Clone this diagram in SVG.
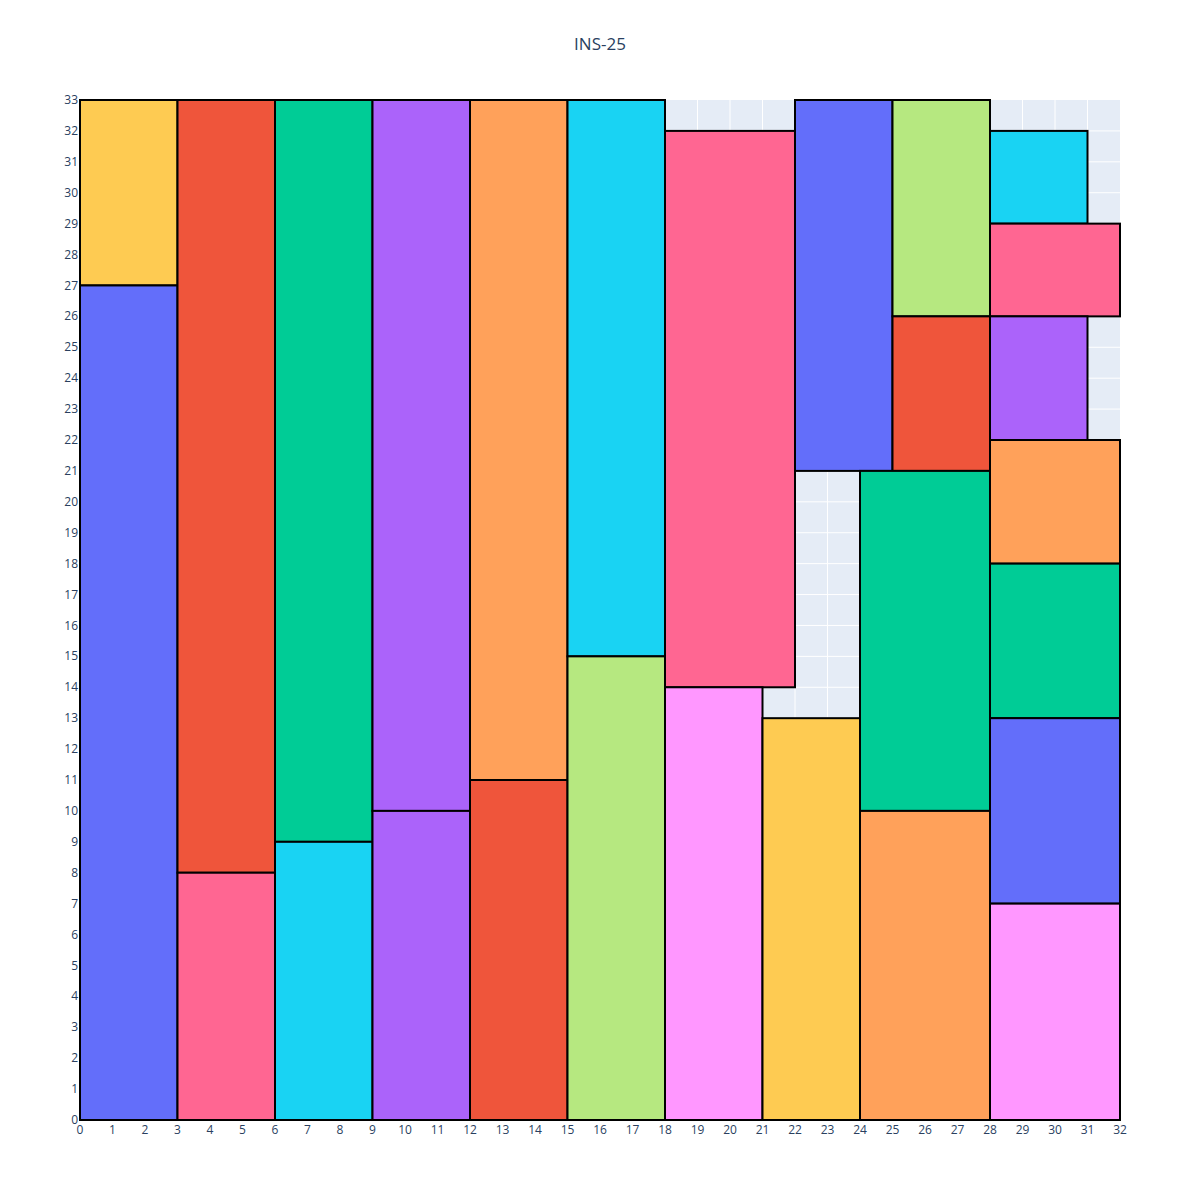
<svg xmlns="http://www.w3.org/2000/svg" width="1200" height="1200" viewBox="0 0 1200 1200">
<style>
.grid line{stroke:#ffffff;stroke-width:1}
.tk{font-family:"Open Sans","Liberation Sans",sans-serif;font-size:12px;fill:#2a3f5f}
.yt{text-anchor:end}
.xt{text-anchor:middle}
.r{stroke:#000000;stroke-width:2}
</style>
<rect x="0" y="0" width="1200" height="1200" fill="#ffffff"/>
<rect x="80" y="100" width="1040" height="1020" fill="#E5ECF6"/>
<g class="grid" id="grid">
<line x1="112.5" y1="100" x2="112.5" y2="1120"/><line x1="145" y1="100" x2="145" y2="1120"/><line x1="177.5" y1="100" x2="177.5" y2="1120"/><line x1="210" y1="100" x2="210" y2="1120"/><line x1="242.5" y1="100" x2="242.5" y2="1120"/><line x1="275" y1="100" x2="275" y2="1120"/><line x1="307.5" y1="100" x2="307.5" y2="1120"/><line x1="340" y1="100" x2="340" y2="1120"/><line x1="372.5" y1="100" x2="372.5" y2="1120"/><line x1="405" y1="100" x2="405" y2="1120"/><line x1="437.5" y1="100" x2="437.5" y2="1120"/><line x1="470" y1="100" x2="470" y2="1120"/><line x1="502.5" y1="100" x2="502.5" y2="1120"/><line x1="535" y1="100" x2="535" y2="1120"/><line x1="567.5" y1="100" x2="567.5" y2="1120"/><line x1="600" y1="100" x2="600" y2="1120"/><line x1="632.5" y1="100" x2="632.5" y2="1120"/><line x1="665" y1="100" x2="665" y2="1120"/><line x1="697.5" y1="100" x2="697.5" y2="1120"/><line x1="730" y1="100" x2="730" y2="1120"/><line x1="762.5" y1="100" x2="762.5" y2="1120"/><line x1="795" y1="100" x2="795" y2="1120"/><line x1="827.5" y1="100" x2="827.5" y2="1120"/><line x1="860" y1="100" x2="860" y2="1120"/><line x1="892.5" y1="100" x2="892.5" y2="1120"/><line x1="925" y1="100" x2="925" y2="1120"/><line x1="957.5" y1="100" x2="957.5" y2="1120"/><line x1="990" y1="100" x2="990" y2="1120"/><line x1="1022.5" y1="100" x2="1022.5" y2="1120"/><line x1="1055" y1="100" x2="1055" y2="1120"/><line x1="1087.5" y1="100" x2="1087.5" y2="1120"/>
<line x1="80" y1="1089.09" x2="1120" y2="1089.09"/><line x1="80" y1="1058.18" x2="1120" y2="1058.18"/><line x1="80" y1="1027.27" x2="1120" y2="1027.27"/><line x1="80" y1="996.36" x2="1120" y2="996.36"/><line x1="80" y1="965.45" x2="1120" y2="965.45"/><line x1="80" y1="934.55" x2="1120" y2="934.55"/><line x1="80" y1="903.64" x2="1120" y2="903.64"/><line x1="80" y1="872.73" x2="1120" y2="872.73"/><line x1="80" y1="841.82" x2="1120" y2="841.82"/><line x1="80" y1="810.91" x2="1120" y2="810.91"/><line x1="80" y1="780" x2="1120" y2="780"/><line x1="80" y1="749.09" x2="1120" y2="749.09"/><line x1="80" y1="718.18" x2="1120" y2="718.18"/><line x1="80" y1="687.27" x2="1120" y2="687.27"/><line x1="80" y1="656.36" x2="1120" y2="656.36"/><line x1="80" y1="625.45" x2="1120" y2="625.45"/><line x1="80" y1="594.55" x2="1120" y2="594.55"/><line x1="80" y1="563.64" x2="1120" y2="563.64"/><line x1="80" y1="532.73" x2="1120" y2="532.73"/><line x1="80" y1="501.82" x2="1120" y2="501.82"/><line x1="80" y1="470.91" x2="1120" y2="470.91"/><line x1="80" y1="440" x2="1120" y2="440"/><line x1="80" y1="409.09" x2="1120" y2="409.09"/><line x1="80" y1="378.18" x2="1120" y2="378.18"/><line x1="80" y1="347.27" x2="1120" y2="347.27"/><line x1="80" y1="316.36" x2="1120" y2="316.36"/><line x1="80" y1="285.45" x2="1120" y2="285.45"/><line x1="80" y1="254.55" x2="1120" y2="254.55"/><line x1="80" y1="223.64" x2="1120" y2="223.64"/><line x1="80" y1="192.73" x2="1120" y2="192.73"/><line x1="80" y1="161.82" x2="1120" y2="161.82"/><line x1="80" y1="130.91" x2="1120" y2="130.91"/>
</g>
<g id="rects">
<rect id="n1" class="r" x="80" y="100" width="97.5" height="185.45" fill="#FECB52"/>
<rect id="n2" class="r" x="80" y="285.45" width="97.5" height="834.55" fill="#636EFA"/>
<rect id="n3" class="r" x="177.5" y="100" width="97.5" height="772.73" fill="#EF553B"/>
<rect id="n4" class="r" x="177.5" y="872.73" width="97.5" height="247.27" fill="#FF6692"/>
<rect id="n5" class="r" x="275" y="100" width="97.5" height="741.82" fill="#00CC96"/>
<rect id="n6" class="r" x="275" y="841.82" width="97.5" height="278.18" fill="#19D3F3"/>
<rect id="n7" class="r" x="372.5" y="100" width="97.5" height="710.91" fill="#AB63FA"/>
<rect id="n8" class="r" x="372.5" y="810.91" width="97.5" height="309.09" fill="#AB63FA"/>
<rect id="n9" class="r" x="470" y="100" width="97.5" height="680" fill="#FFA15A"/>
<rect id="n10" class="r" x="470" y="780" width="97.5" height="340" fill="#EF553B"/>
<rect id="n11" class="r" x="567.5" y="100" width="97.5" height="556.36" fill="#19D3F3"/>
<rect id="n12" class="r" x="567.5" y="656.36" width="97.5" height="463.64" fill="#B6E880"/>
<rect id="n13" class="r" x="665" y="130.91" width="130" height="556.36" fill="#FF6692"/>
<rect id="n14" class="r" x="665" y="687.27" width="97.5" height="432.73" fill="#FF97FF"/>
<rect id="n15" class="r" x="762.5" y="718.18" width="97.5" height="401.82" fill="#FECB52"/>
<rect id="n16" class="r" x="795" y="100" width="97.5" height="370.91" fill="#636EFA"/>
<rect id="n17" class="r" x="892.5" y="100" width="97.5" height="216.36" fill="#B6E880"/>
<rect id="n18" class="r" x="892.5" y="316.36" width="97.5" height="154.55" fill="#EF553B"/>
<rect id="n19" class="r" x="860" y="470.91" width="130" height="340" fill="#00CC96"/>
<rect id="n20" class="r" x="860" y="810.91" width="130" height="309.09" fill="#FFA15A"/>
<rect id="n21" class="r" x="990" y="130.91" width="97.5" height="92.73" fill="#19D3F3"/>
<rect id="n22" class="r" x="990" y="223.64" width="130" height="92.73" fill="#FF6692"/>
<rect id="n23" class="r" x="990" y="316.36" width="97.5" height="123.64" fill="#AB63FA"/>
<rect id="n24" class="r" x="990" y="440" width="130" height="123.64" fill="#FFA15A"/>
<rect id="n25" class="r" x="990" y="563.64" width="130" height="154.55" fill="#00CC96"/>
<rect id="n26" class="r" x="990" y="718.18" width="130" height="185.45" fill="#636EFA"/>
<rect id="n27" class="r" x="990" y="903.64" width="130" height="216.36" fill="#FF97FF"/>
</g>
<g id="yticks" class="tk yt">
<text x="78" y="1124">0</text><text x="78" y="1093">1</text><text x="78" y="1062">2</text><text x="78" y="1031">3</text><text x="78" y="1000">4</text><text x="78" y="970">5</text><text x="78" y="939">6</text><text x="78" y="908">7</text><text x="78" y="877">8</text><text x="78" y="846">9</text><text x="78" y="815">10</text><text x="78" y="784">11</text><text x="78" y="753">12</text><text x="78" y="722">13</text><text x="78" y="691">14</text><text x="78" y="660">15</text><text x="78" y="630">16</text><text x="78" y="599">17</text><text x="78" y="568">18</text><text x="78" y="537">19</text><text x="78" y="506">20</text><text x="78" y="475">21</text><text x="78" y="444">22</text><text x="78" y="413">23</text><text x="78" y="382">24</text><text x="78" y="351">25</text><text x="78" y="320">26</text><text x="78" y="290">27</text><text x="78" y="259">28</text><text x="78" y="228">29</text><text x="78" y="197">30</text><text x="78" y="166">31</text><text x="78" y="135">32</text><text x="78" y="104">33</text>
</g>
<g id="xticks" class="tk xt">
<text x="80" y="1134">0</text><text x="112.5" y="1134">1</text><text x="145" y="1134">2</text><text x="177.5" y="1134">3</text><text x="210" y="1134">4</text><text x="242.5" y="1134">5</text><text x="275" y="1134">6</text><text x="307.5" y="1134">7</text><text x="340" y="1134">8</text><text x="372.5" y="1134">9</text><text x="405" y="1134">10</text><text x="437.5" y="1134">11</text><text x="470" y="1134">12</text><text x="502.5" y="1134">13</text><text x="535" y="1134">14</text><text x="567.5" y="1134">15</text><text x="600" y="1134">16</text><text x="632.5" y="1134">17</text><text x="665" y="1134">18</text><text x="697.5" y="1134">19</text><text x="730" y="1134">20</text><text x="762.5" y="1134">21</text><text x="795" y="1134">22</text><text x="827.5" y="1134">23</text><text x="860" y="1134">24</text><text x="892.5" y="1134">25</text><text x="925" y="1134">26</text><text x="957.5" y="1134">27</text><text x="990" y="1134">28</text><text x="1022.5" y="1134">29</text><text x="1055" y="1134">30</text><text x="1087.5" y="1134">31</text><text x="1120" y="1134">32</text>
</g>
<text id="title" x="600" y="50" text-anchor="middle" style="font-family:'Open Sans','Liberation Sans',sans-serif;font-size:17px;fill:#2a3f5f">INS-25</text>
</svg>
